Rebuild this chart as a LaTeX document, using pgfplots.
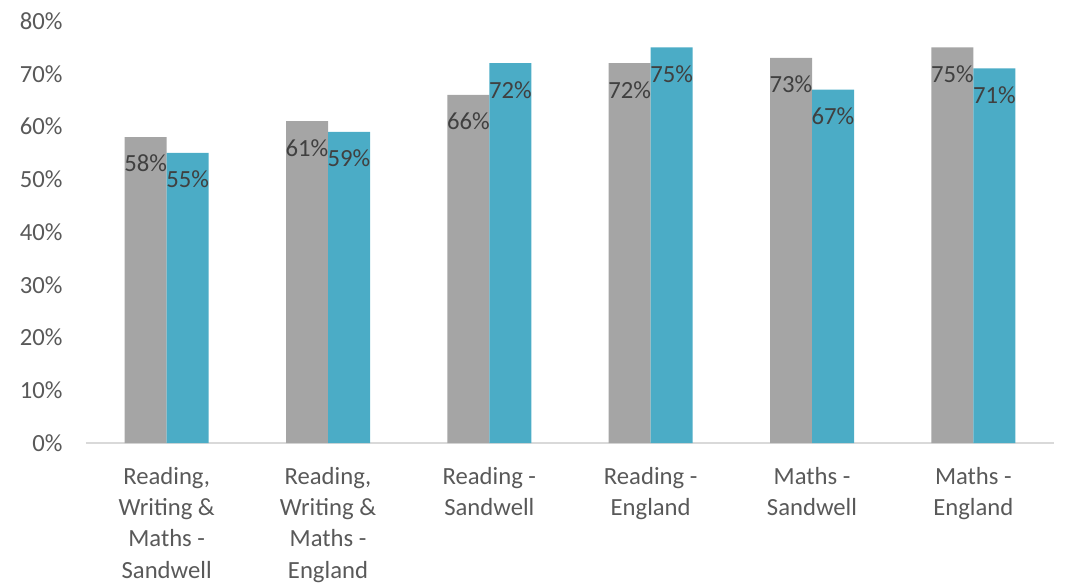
\documentclass[border=0pt]{standalone}
\usepackage{pgfplots}
\pgfplotsset{compat=1.18}
\usepackage{fontspec}
\setmainfont{Carlito}
\definecolor{sgrey}{HTML}{A5A5A5}
\definecolor{steal}{HTML}{4BACC6}
\definecolor{ticktext}{HTML}{595959}
\definecolor{labtext}{HTML}{404040}
\definecolor{axline}{HTML}{D9D9D9}
\begin{document}
\begin{tikzpicture}
\useasboundingbox (0,0) rectangle (800.25pt,437.25pt);
\begin{axis}[
  at={(64.5pt,105pt)}, anchor=south west,
  scale only axis,
  width=726pt, height=316.5pt,
  ybar=0pt, bar width=31.5pt,
  ymin=0, ymax=80, xmin=-0.5, xmax=5.5,
  ytick={0,10,...,80},
  /pgf/number format/assume math mode=true,
  yticklabel={\pgfmathprintnumber{\tick}\%},
  xtick=data,
  xticklabels={{Reading,\\Writing \&\\Maths -\\Sandwell},{Reading,\\Writing \&\\Maths -\\England},{Reading -\\Sandwell},{Reading -\\England},{Maths -\\Sandwell},{Maths -\\England}},
  xticklabel style={align=center, font=\fontsize{18.5}{23.3}\selectfont, text=ticktext, yshift=-15pt},
  yticklabel style={font=\fontsize{18.5}{22}\selectfont, text=ticktext, xshift=-14pt},
  axis x line*=bottom,
  axis y line*=left,
  y axis line style={draw=none},
  x axis line style={axline, line width=1.2pt, -},
  major tick length=0pt,
  tick style={draw=none},
  nodes near coords={\pgfmathprintnumber{\pgfplotspointmeta}\%},
  nodes near coords style={font=\fontsize{18.5}{22}\selectfont, text=labtext, anchor=north, yshift=-10pt},
  clip=false,
]
\addplot[fill=sgrey, draw=none] coordinates {(0,58) (1,61) (2,66) (3,72) (4,73) (5,75)};
\addplot[fill=steal, draw=none] coordinates {(0,55) (1,59) (2,72) (3,75) (4,67) (5,71)};
\end{axis}
\end{tikzpicture}
\end{document}
